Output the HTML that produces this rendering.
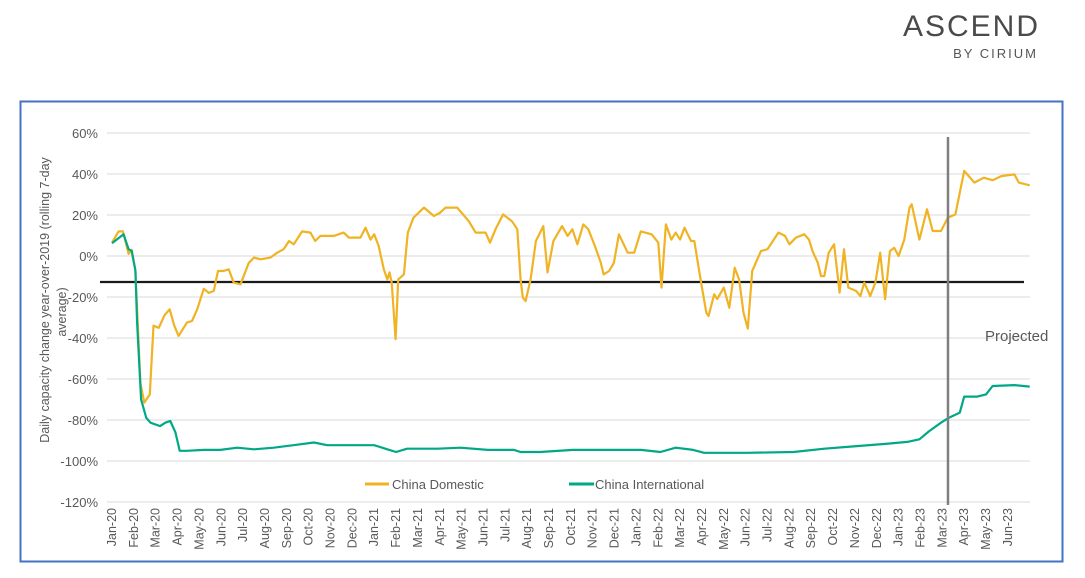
<!DOCTYPE html>
<html><head><meta charset="utf-8"><style>
body{margin:0;background:#fff;width:1085px;height:573px;overflow:hidden;font-family:"Liberation Sans",sans-serif}
</style></head><body>
<svg width="1085" height="573" xmlns="http://www.w3.org/2000/svg">
<text x="1040" y="36" text-anchor="end" font-size="30" fill="#4a4a4a" letter-spacing="2" font-weight="normal">ASCEND</text>
<text x="1038" y="58" text-anchor="end" font-size="13" fill="#555" letter-spacing="2">BY CIRIUM</text>
<rect x="20.5" y="101.5" width="1042" height="460" fill="none" stroke="#4472C4" stroke-width="2"/>
<g id="grid"></g>
<g id="yt"></g>
<g id="xt"></g>
<text transform="translate(49,300) rotate(-90)" text-anchor="middle" font-size="12.5" fill="#595959">Daily capacity change year-over-2019 (rolling 7-day</text>
<text transform="translate(66,312) rotate(-90)" text-anchor="middle" font-size="12.5" fill="#595959">average)</text>
<g id="series"></g>
<text x="985" y="341" font-size="15" fill="#595959">Projected</text>
<line x1="365" y1="484" x2="389" y2="484" stroke="#F0B323" stroke-width="3"/>
<text x="392" y="489" font-size="13" fill="#595959">China Domestic</text>
<line x1="569" y1="484" x2="594" y2="484" stroke="#00A887" stroke-width="3"/>
<text x="595" y="489" font-size="13" fill="#595959">China International</text>
</svg>
<script>
const yTicks=[60,40,20,0,-20,-40,-60,-80,-100,-120];
const months=["Jan-20","Feb-20","Mar-20","Apr-20","May-20","Jun-20","Jul-20","Aug-20","Sep-20","Oct-20","Nov-20","Dec-20","Jan-21","Feb-21","Mar-21","Apr-21","May-21","Jun-21","Jul-21","Aug-21","Sep-21","Oct-21","Nov-21","Dec-21","Jan-22","Feb-22","Mar-22","Apr-22","May-22","Jun-22","Jul-22","Aug-22","Sep-22","Oct-22","Nov-22","Dec-22","Jan-23","Feb-23","Mar-23","Apr-23","May-23","Jun-23"];
const domT=[0,0.3,0.5,0.76,0.9,1.07,1.3,1.48,1.73,1.9,2.14,2.4,2.64,2.85,3.05,3.43,3.66,3.9,4.2,4.43,4.66,4.85,5.1,5.34,5.57,5.88,6.26,6.5,6.8,7.25,7.56,7.86,8.1,8.32,8.7,9.08,9.3,9.54,10.15,10.6,10.84,11.37,11.6,11.83,12.0,12.2,12.44,12.6,12.7,12.8,12.98,13.1,13.36,13.54,13.8,14.28,14.73,15.0,15.27,15.8,16.33,16.64,17.1,17.3,17.55,17.9,18.3,18.55,18.7,18.8,18.93,19.16,19.4,19.74,19.93,20.2,20.6,20.85,21.07,21.3,21.57,21.8,22.1,22.37,22.5,22.75,22.97,23.2,23.6,23.9,24.2,24.7,25.0,25.15,25.35,25.6,25.8,26.0,26.2,26.5,26.65,26.96,27.2,27.3,27.56,27.7,28.0,28.25,28.5,28.7,28.9,29.1,29.3,29.7,30.0,30.5,30.8,31.0,31.3,31.68,31.9,32.06,32.3,32.45,32.6,32.8,33.05,33.3,33.5,33.7,34.05,34.25,34.43,34.7,34.94,35.16,35.38,35.6,35.8,36.0,36.26,36.5,36.6,36.95,37.3,37.56,37.94,38.25,38.6,39.0,39.47,39.9,40.3,40.7,41.3,41.5,42.0];
const domV=[6.5,12,12,1,3,-7,-62,-71.5,-67.5,-34,-35,-29,-26,-34,-39,-32.5,-31.7,-26,-16,-18,-17,-7.3,-7.3,-6.5,-13,-13.8,-3.3,-0.8,-1.6,-0.8,1.6,3.3,7.3,5.7,12,11.4,7.3,9.8,9.8,11.4,9,9,13.8,8,10.6,5,-6.5,-11.4,-8,-13,-40.6,-11.4,-9,11.4,18.7,23.6,19.5,21,23.6,23.6,17,11.4,11.4,6.5,13,20.3,17,13,-11.4,-20.3,-22,-11.4,7.3,14.6,-8,7.3,14.6,9.8,13,5.7,15.4,13,4.9,-3.3,-9,-7.3,-3.3,10.6,1.6,1.6,12,10.6,6.5,-15.4,15.4,8,11.4,8,13.8,7.3,7.3,-13,-27.6,-29.3,-18.7,-21,-15.4,-25.2,-5.7,-11.4,-27.6,-35.4,-7.3,2.4,3.3,11.4,9.8,5.7,9,10.6,8,2.4,-3.3,-9.8,-9.8,1.6,5.7,-17.9,3.3,-15.4,-17,-19.5,-13,-19.5,-13,1.6,-21,2.4,4,0,8,23.6,25.2,8,22.8,12.2,12.2,18.7,20.3,41.5,35.8,38.2,37,39,39.8,35.8,34.5];
const intT=[0,0.53,0.76,0.9,1.07,1.15,1.33,1.57,1.76,2.2,2.44,2.67,2.9,3.1,3.43,4.2,4.96,5.73,6.5,7.4,8.3,9.24,9.85,11.07,12.0,12.6,13.0,13.5,14.9,15.95,17.2,18.4,18.7,19.6,21.1,24.2,25.1,25.8,26.6,27.1,29.1,31.2,32.6,33.8,35.65,36.4,36.95,37.4,37.94,38.3,38.8,39.0,39.6,40.0,40.3,41.3,42.0];
const intV=[6.2,10.6,3.3,2.4,-7,-32.5,-70,-79,-81.3,-83,-81.3,-80.5,-86,-95,-95,-94.6,-94.6,-93.5,-94.3,-93.5,-92.3,-91,-92.3,-92.3,-92.3,-94.3,-95.6,-94,-94,-93.5,-94.6,-94.6,-95.6,-95.6,-94.6,-94.6,-95.6,-93.5,-94.6,-96,-96,-95.6,-94,-93,-91.4,-90.7,-89.4,-85.4,-81.3,-78.9,-76.4,-68.6,-68.6,-67.5,-63.4,-63,-63.7];
const thresholdV=-12.7;
const projectedT=38.26;
const X=t=>112+t*21.85;
const Y=v=>256-v*(369/180);
const NS="http://www.w3.org/2000/svg";
function mk(tag,attrs,parent,txt){const e=document.createElementNS(NS,tag);for(const k in attrs)e.setAttribute(k,attrs[k]);if(txt!==undefined)e.textContent=txt;parent.appendChild(e);return e;}
const grid=document.getElementById('grid'),yt=document.getElementById('yt'),xt=document.getElementById('xt'),ser=document.getElementById('series');
yTicks.forEach(v=>{
  const l=mk('line',{x1:107,x2:1030,y1:Y(v),y2:Y(v),stroke:'#d9d9d9','stroke-width':1},grid);
  
  
  const t=mk('text',{x:98,y:Y(v)+5,'text-anchor':'end','font-size':13,fill:'#595959'},yt,v+'%');
  
  
});
months.forEach((m,i)=>{
  const x=X(i)+4;
  const t=mk('text',{transform:`translate(${x},508) rotate(-90)`,'text-anchor':'end','font-size':12.5,fill:'#595959'},xt,m);
  
  
});
const th=mk('line',{x1:100,x2:1024,y1:Y(thresholdV),y2:Y(thresholdV),stroke:'#1a1a1a','stroke-width':2.2},ser);


function path(T,V,color,name){
  const d=T.map((t,i)=>(i?'L':'M')+X(t).toFixed(1)+','+Y(V[i]).toFixed(1)).join('');
  const p=mk('path',{d,fill:'none',stroke:color,'stroke-width':2.2,'stroke-linejoin':'round'},ser);
  
  
}
path(domT,domV,'#F0B323','line-china-domestic');
path(intT,intV,'#00A887','line-china-international');
const pv=mk('line',{x1:X(projectedT),x2:X(projectedT),y1:137,y2:505,stroke:'#7f7f7f','stroke-width':2.5},ser);


</script>
</body></html>
